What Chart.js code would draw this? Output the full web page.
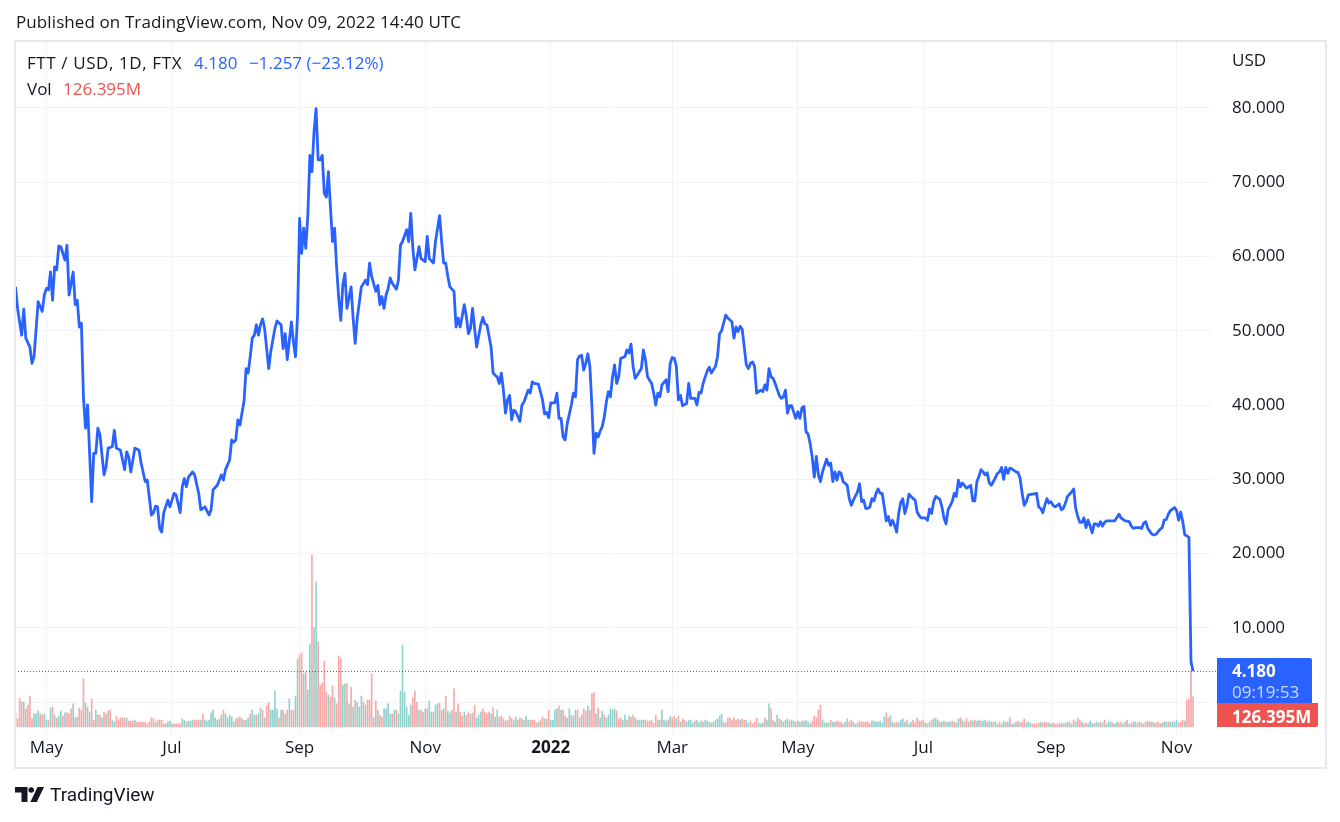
<!DOCTYPE html>
<html><head><meta charset="utf-8">
<script src="https://cdn.jsdelivr.net/npm/chart.js@4/dist/chart.umd.min.js"></script>
<style>
html,body{margin:0;padding:0;background:#fff;}
body{width:1340px;height:822px;position:relative;overflow:hidden;font-family:"Open Sans",Roboto,sans-serif;color:#131722;}
#c{position:absolute;left:0;top:0;}
.t{position:absolute;white-space:nowrap;line-height:1;z-index:2;}
.box{position:absolute;z-index:2;}
</style></head><body>
<canvas id="c" width="1340" height="822"></canvas>
<div class="t" style="left:16px;top:13px;font-size:17px;letter-spacing:0.1px;">Published on TradingView.com, Nov 09, 2022 14:40 UTC</div>
<div class="t" style="left:27px;top:54px;font-size:17px;letter-spacing:0.6px;">FTT / USD, 1D, FTX</div>
<div class="t" style="left:194px;top:54px;font-size:17px;color:#2962ff;">4.180</div>
<div class="t" style="left:249px;top:54px;font-size:17px;color:#2962ff;">−1.257 (−23.12%)</div>
<div class="t" style="left:27px;top:80px;font-size:17px;">Vol</div>
<div class="t" style="left:63px;top:80px;font-size:17px;color:#ef5350;">126.395M</div>
<div class="t" style="left:1232px;top:51px;font-size:17px;">USD</div>
<div class="box" style="left:1217px;top:658px;width:95px;height:45px;background:#2962ff;border-radius:0 2px 0 0;"></div>
<div class="t" style="left:1232px;top:662px;font-size:17px;color:#fff;font-weight:700;">4.180</div>
<div class="t" style="left:1232px;top:683px;font-size:17px;color:rgba(255,255,255,0.75);">09:19:53</div>
<div class="box" style="left:1217px;top:703px;width:101px;height:24px;background:#ef5350;border-radius:0 0 2px 0;"></div>
<div class="t" style="left:1232px;top:708px;font-size:17px;color:#fff;font-weight:700;">126.395M</div>
<svg style="position:absolute;left:0;top:0;z-index:2" width="60" height="822">
  <g fill="#131722">
    <path d="M15 787 H27.5 V802 H21.5 V792.5 H15 Z"/>
    <circle cx="31.2" cy="790" r="2.8"/>
    <path d="M37.5 787 H44 L36.8 802 H30.4 Z"/>
  </g>
</svg>
<div class="t" style="left:50px;top:785px;font-size:19px;font-family:Roboto,sans-serif;">TradingView</div>
<script>
// ---------------- data ----------------
const START_DATE = '2021-04-16';               // day 0 of the time axis (daily bars)
const monthTickDates  = ['2021-05-01','2021-07-01','2021-09-01','2021-11-01','2022-01-01','2022-03-01','2022-05-01','2022-07-01','2022-09-01','2022-11-01'];
const monthTickLabels = ['May','Jul','Sep','Nov','2022','Mar','May','Jul','Sep','Nov'];
const priceTicks = [0,10,20,30,40,50,60,70,80];
const lastPrice = 4.18;

// [day since START_DATE, close USD]
const closes = [
[0,55.9],[1,53.0],[3,49.4],[4,52.9],[5,49.0],[7,47.8],[8,45.6],[9,46.5],[11,53.9],[13,52.6],[14,54.8],[15,55.7],[16,55.5],[17,57.9],[18,54.1],[19,58.6],[20,58.2],[21,61.4],[22,61.3],[24,59.5],[25,61.5],[26,54.8],[28,57.9],[29,53.5],[30,54.1],[31,50.5],[32,51.0],[33,41.1],[34,36.9],[35,40.0],[36,33.5],[37,27.0],[38,33.5],[39,33.5],[40,36.9],[41,36.0],[43,30.6],[44,31.7],[45,34.2],[47,34.4],[48,36.6],[49,34.2],[51,33.9],[53,31.3],[54,33.7],[55,33.0],[56,31.0],[58,34.2],[60,33.9],[61,32.2],[63,29.7],[64,29.9],[66,25.2],[67,25.5],[68,26.4],[69,26.3],[70,23.4],[71,22.9],[72,25.5],[74,27.2],[75,26.3],[77,28.1],[78,27.9],[80,25.5],[81,29.0],[82,30.1],[83,29.0],[84,30.3],[86,31.0],[87,30.6],[89,28.1],[90,25.9],[92,26.3],[94,25.2],[95,25.9],[96,28.6],[98,29.2],[100,30.6],[101,29.9],[102,31.3],[104,32.6],[105,35.3],[106,35.0],[107,35.3],[108,38.0],[109,37.3],[111,40.5],[112,44.9],[113,44.3],[114,46.5],[115,49.0],[116,49.4],[117,50.8],[118,49.4],[119,50.8],[120,51.6],[121,50.3],[123,44.9],[124,47.2],[126,50.3],[127,51.3],[129,50.8],[130,47.6],[131,49.6],[132,46.1],[134,51.2],[135,48.5],[136,46.5],[137,52.1],
[138,65.1],[139,60.4],[140,63.8],[141,61.1],[142,65.6],[143,73.6],[144,71.4],[145,76.8],[146,79.9],[147,73.0],[148,73.0],[149,73.6],[150,68.5],[151,68.0],[152,71.4],[153,66.5],[154,62.0],[155,63.8],[156,58.4],[157,54.4],[158,51.4],[159,56.2],[160,57.7],[161,53.0],[162,54.4],[163,55.9],[164,51.7],[165,48.3],[166,51.7],[168,55.9],[170,56.8],[171,56.2],[172,59.1],[173,57.3],[175,55.3],[176,56.1],[177,53.5],[178,54.6],[179,53.0],[180,54.8],[181,55.7],[182,57.1],[183,56.4],[185,55.6],[186,56.8],[187,61.5],[188,62.0],[190,63.6],[191,62.0],[192,65.8],[193,61.1],[194,58.2],[196,61.3],[197,59.7],[199,59.3],[200,62.7],[201,59.7],[203,59.1],[204,62.0],[206,65.5],[207,62.0],[208,59.1],[209,59.1],[210,57.3],[211,55.9],[213,55.3],[214,50.5],[215,51.7],[216,50.5],[218,53.5],[219,51.9],[220,49.6],[221,50.3],[222,53.0],[223,50.3],[224,47.8],[226,50.8],[227,51.8],[228,50.9],[229,50.8],[231,47.8],[232,44.3],[233,44.0],[234,43.8],[235,42.9],[236,44.3],[237,42.0],[238,38.9],[239,40.7],[240,41.3],[241,38.0],[242,39.3],[243,39.1],[245,37.8],[246,40.0],[247,40.4],[249,42.0],[250,41.6],[251,43.1],[252,42.9],[254,42.8],[256,40.7],[257,38.8],[258,39.0],[259,38.3],[260,40.3],[262,40.3],[263,41.6],[264,38.2],[265,38.2],[266,35.7],[267,35.3],[268,37.5],[270,40.0],[271,41.6],[272,41.1],[273,46.1],[274,46.6],[275,46.7],[276,44.7],[277,45.6],[278,46.9],[279,45.2],[280,39.8],[281,33.5],[282,36.2],[283,35.7],[284,36.5],[285,37.1],[286,38.4],[287,40.4],[288,41.8],[289,41.1],[290,43.8],[291,45.4],[292,42.9],[293,43.8],[294,46.3],[296,46.5],[297,47.4],[298,47.0],[299,48.2],[300,45.2],[301,43.6],[302,44.0],[303,44.5],[304,44.9],[305,47.4],[306,46.1],[307,43.8],[309,42.9],[310,41.6],[311,40.0],[312,41.6],[313,41.1],[314,42.7],[316,43.4],[317,41.8],[318,45.6],[319,46.4],[320,46.3],[321,45.2],[322,40.7],[323,41.3],[324,39.9],[326,40.2],[327,42.9],[328,40.9],[329,40.9],[330,40.9],[331,40.0],[332,41.7],[333,41.6],[334,42.9],[336,44.6],[337,45.1],[338,44.3],[340,45.2],[341,46.5],[342,49.6],[343,50.0],[345,52.1],[346,51.7],[348,51.2],[349,49.0],[350,50.5],[351,49.9],[352,50.6],[353,50.2],[354,47.8],[355,45.4],[356,44.9],[357,45.6],[358,45.8],[359,45.2],[360,41.6],[361,41.8],[362,42.0],[363,41.8],[364,42.7],[365,42.0],[366,44.9],[367,43.8],[368,43.6],[369,42.9],[371,41.3],[372,40.9],[373,41.1],[374,42.0],[375,38.9],[376,39.9],[377,39.9],[379,38.2],[380,39.1],[381,38.2],[382,39.6],[383,39.8],[384,36.4],[385,36.1],[386,34.8],[387,33.0],[388,30.3],[389,33.1],[390,30.6],[391,29.7],[392,31.0],[394,32.7],[395,31.9],[396,32.2],[397,29.7],[398,31.0],[399,29.9],[400,31.0],[401,30.8],[402,29.7],[404,29.2],[405,27.4],[406,26.5],[407,27.2],[409,28.3],[410,29.4],[411,27.0],[412,27.2],[413,26.1],[414,26.1],[415,26.3],[416,27.4],[417,27.1],[418,28.1],[419,28.7],[420,28.1],[421,28.1],[422,26.3],[423,24.4],[424,25.0],[425,23.8],[426,24.5],[427,23.8],[428,22.9],[429,25.4],[430,26.9],[431,27.4],[432,25.4],[433,26.4],[434,28.0],[436,27.4],[437,27.2],[438,25.6],[439,25.1],[440,24.8],[442,24.8],[443,24.5],[444,26.0],[445,25.4],[446,27.0],[447,27.7],[449,27.3],[450,26.3],[451,24.8],[452,24.0],[453,25.9],[455,27.0],[456,28.1],[457,27.7],[458,29.9],[459,29.0],[460,29.5],[462,28.8],[463,29.0],[464,29.2],[465,27.1],[466,27.1],[467,29.7],[468,30.4],[469,31.3],[470,31.0],[471,30.6],[472,30.9],[473,29.5],[474,29.2],[475,29.7],[477,30.8],[478,31.0],[479,31.6],[480,30.0],[481,31.6],[482,30.8],[483,31.5],[484,31.4],[486,31.0],[487,30.9],[488,30.1],[489,28.1],[490,26.5],[491,27.0],[492,27.9],[494,28.0],[496,28.1],[497,26.3],[498,26.1],[499,25.5],[500,26.5],[501,27.4],[502,26.8],[503,27.0],[504,26.5],[505,26.3],[507,26.7],[508,25.9],[509,26.1],[510,26.8],[511,27.7],[513,28.3],[514,28.7],[515,26.1],[516,25.0],[517,24.2],[518,24.2],[519,24.8],[520,23.5],[521,24.5],[522,23.7],[523,22.8],[524,24.0],[525,24.0],[526,23.7],[527,24.3],[528,23.7],[529,24.2],[530,24.4],[532,24.4],[534,24.4],[535,24.9],[536,25.3],[537,24.8],[539,24.4],[541,24.3],[542,23.7],[543,23.4],[544,23.5],[546,23.5],[547,23.4],[548,24.1],[549,24.3],[550,23.4],[552,22.6],[553,22.5],[554,22.6],[556,23.3],[557,23.5],[558,24.5],[559,24.6],[560,25.3],[561,25.8],[563,26.2],[564,25.8],[565,24.5],[566,25.6],[567,24.3],[568,22.5],[569,22.4],[570,22.2],[571,5.437],[572,4.18]
];

// daily volume (millions), one per day from START_DATE to 2022-11-09
const volumeM = [
67,34,122,105,105,76,92,130,34,55,55,67,55,50,55,29,29,80,84,50,38,46,67,46,59,59,55,76,97,38,42,80,71,202,101,84,63,118,29,71,50,50,38,
63,55,67,71,29,21,46,29,38,38,38,38,25,25,25,29,21,21,21,21,21,13,21,38,34,21,29,29,29,13,13,21,25,13,
13,13,13,13,34,29,21,25,25,29,29,29,29,29,55,29,25,29,59,71,38,29,34,50,71,55,38,50,42,21,34,38,42,34,
29,29,38,55,71,50,50,55,80,71,38,88,101,71,71,151,76,38,71,71,55,71,
118,71,71,130,286,302,311,223,231,155,349,722,420,609,357,176,185,277,147,134,126,172,122,97,298,286,176,181,181,97,168,84,113,105,84,130,105,92,113,113,223,38,109,71,50,42,
76,76,97,55,55,71,71,55,151,344,147,84,50,92,122,151,105,71,71,63,76,76,109,63,63,92,97,101,71,76,130,67,
59,71,160,63,97,63,46,63,50,63,55,59,92,38,50,63,76,63,55,63,55,80,42,71,42,46,34,25,29,46,
38,29,42,29,38,34,29,46,29,29,29,29,17,21,29,42,34,34,71,29,29,71,76,88,71,71,46,38,76,50,46,71,71,38,50,
76,67,88,71,139,143,55,80,38,67,50,38,50,76,71,76,67,34,38,29,50,29,46,42,50,38,29,29,29,29,29,25,25,29,17,
50,29,29,71,29,25,29,46,38,46,34,46,21,34,29,21,29,29,17,25,29,17,25,21,29,25,21,17,21,29,34,46,55,21,17,
38,38,29,38,29,34,29,34,29,29,17,25,13,21,38,17,13,17,38,29,97,76,29,21,50,34,29,21,29,34,25,29,25,21,25,
21,25,25,29,21,13,25,46,38,71,92,29,17,17,17,29,21,21,25,21,21,13,21,34,21,29,21,13,17,25,21,21,21,21,13,
25,25,21,21,
25,17,42,59,38,46,21,17,21,17,29,34,21,29,13,21,29,17,38,25,25,29,17,13,21,29,34,38,29,21,
21,25,21,21,21,25,21,17,34,38,29,21,34,21,29,25,29,25,29,25,25,29,21,25,21,21,21,13,21,13,25,21,21,38,13,13,21,25,17,
21,34,17,21,17,13,13,13,17,21,17,21,17,17,13,17,13,13,13,17,13,17,21,21,13,29,21,38,29,21,13,17,13,25,17,13,21,17,21,
17,29,13,21,21,17,13,21,17,21,13,21,29,13,17,21,21,17,21,17,13,21,25,21,21,17,17,21,13,17,21,21,21,21,21,21,29,17,21,
29,25,
113,118,239,126.395
];
// bar direction per day: u = up (green), d = down (red)
const volumeDir =
 'dddduddddu'+'uudduududu'+'duududddud'+'udddududdu'+'ddu'+
 'dudduudddd'+'dudddudddd'+'dddddudddd'+'uuuu'+
 'dddduuduuu'+'ddduduuuuu'+'uududuuuuu'+'dddu'+
 'duuduuduud'+'udduuuudud'+'ud'+
 'udduuddudu'+'uduudddddu'+'dduddduudu'+'duduuududd'+'dududd'+
 'uuuududuuu'+'uuuudddudd'+'uduuduuddu'+'du'+
 'uddudddudd'+'udduuudddd'+'uduudddudd'+
 'duudduduud'+'dddudduddu'+'uuududduud'+'uudud'+
 'dduddduduu'+'duuuuudddu'+'ududduduuu'+'ddddd'+
 'duduuududd'+'ududduuuud'+'uuuduuuudu'+'uuudd'+
 'dddddduddu'+'udddduuudu'+'udduududuu'+'duudu'+
 'uduuuudddd'+'duuuuduudd'+'dduudduudd'+'ddddd'+
 'uuuu'+
 'uuudduuddu'+'uuuduudddd'+'ddududuuud'+
 'uduuudduud'+'uddududuud'+'uuduududdu'+'ududuudud'+
 'dduuuddddu'+'ddduuddddu'+'duudududdu'+'dduuuduud'+
 'uduuuduudd'+'uududuudud'+'ddududddud'+'uuduuuudd'+
 'du'+'dddd';

// ---------------- chart ----------------
const DAY = 864e5;
const t0 = Date.parse(START_DATE);
const tickDays = monthTickDates.map(d => Math.round((Date.parse(d) - t0) / DAY));
const UP = '#92d2cc', DOWN = '#f7a9a7';
const GRID = '#f0f3fa';
const FONT = '"Open Sans", Roboto, sans-serif';

const decor = {
  id: 'decor',
  beforeDraw(chart) {
    const c = chart.ctx; c.save(); c.fillStyle = '#fff'; c.fillRect(0, 0, chart.width, chart.height); c.restore();
  },
  afterDatasetsDraw(chart) {
    const c = chart.ctx, a = chart.chartArea, y = Math.round(chart.scales.y.getPixelForValue(lastPrice)) + 0.5;
    c.save(); c.strokeStyle = '#2962ff'; c.lineWidth = 1; c.setLineDash([1, 2]);
    c.beginPath(); c.moveTo(a.left, y); c.lineTo(a.right + 5, y); c.stroke(); c.restore();
  },
  afterDraw(chart) {
    const c = chart.ctx; c.save(); c.strokeStyle = '#e6e8ef'; c.lineWidth = 2;
    c.strokeRect(15, 41, 1311, 727); c.restore();
  }
};

new Chart(document.getElementById('c'), {
  type: 'line',
  data: {
    datasets: [
      { type: 'line', data: closes.map(p => ({ x: p[0], y: p[1] })), borderColor: '#2962ff', borderWidth: 2.8,
        pointRadius: 0, tension: 0, yAxisID: 'y', order: 0, borderJoinStyle: 'round' },
      { type: 'bar', data: volumeM.map((v, i) => ({ x: i, y: v })), yAxisID: 'yv', order: 1,
        backgroundColor: volumeM.map((v, i) => volumeDir[i] === 'd' ? DOWN : UP), barThickness: 1 }
    ]
  },
  options: {
    responsive: false, animation: false, events: [],
    layout: { padding: { left: 15, top: 41, right: 0, bottom: 54 } },
    plugins: { legend: { display: false }, tooltip: { enabled: false } },
    scales: {
      x: {
        type: 'linear', min: -0.25, max: 581.2, offset: false, position: 'bottom',
        grid: { color: GRID, drawTicks: false, offset: false }, border: { display: false },
        afterBuildTicks: s => { s.ticks = tickDays.map(v => ({ value: v })); },
        afterFit: s => { s.height = 33; },
        ticks: {
          autoSkip: false, maxRotation: 0, padding: 3, color: '#131722',
          font: ctx => ({ family: FONT, size: 17, weight: monthTickLabels[ctx.index] === '2022' ? 'bold' : 'normal' }),
          callback: (v, i) => monthTickLabels[i]
        }
      },
      y: {
        position: 'right', min: -4.41, max: 88.99,
        grid: { color: GRID, drawTicks: false }, border: { display: false },
        afterBuildTicks: s => { s.ticks = priceTicks.map(v => ({ value: v })); },
        afterFit: s => { s.width = 128; },
        ticks: { padding: 20, color: '#131722', font: { family: FONT, size: 17 },
          callback: v => v === 0 ? '' : v.toFixed(3) }
      },
      yv: { display: false, min: -33.6, max: 2881.2 }
    }
  },
  plugins: [decor]
});
</script>
</body></html>
